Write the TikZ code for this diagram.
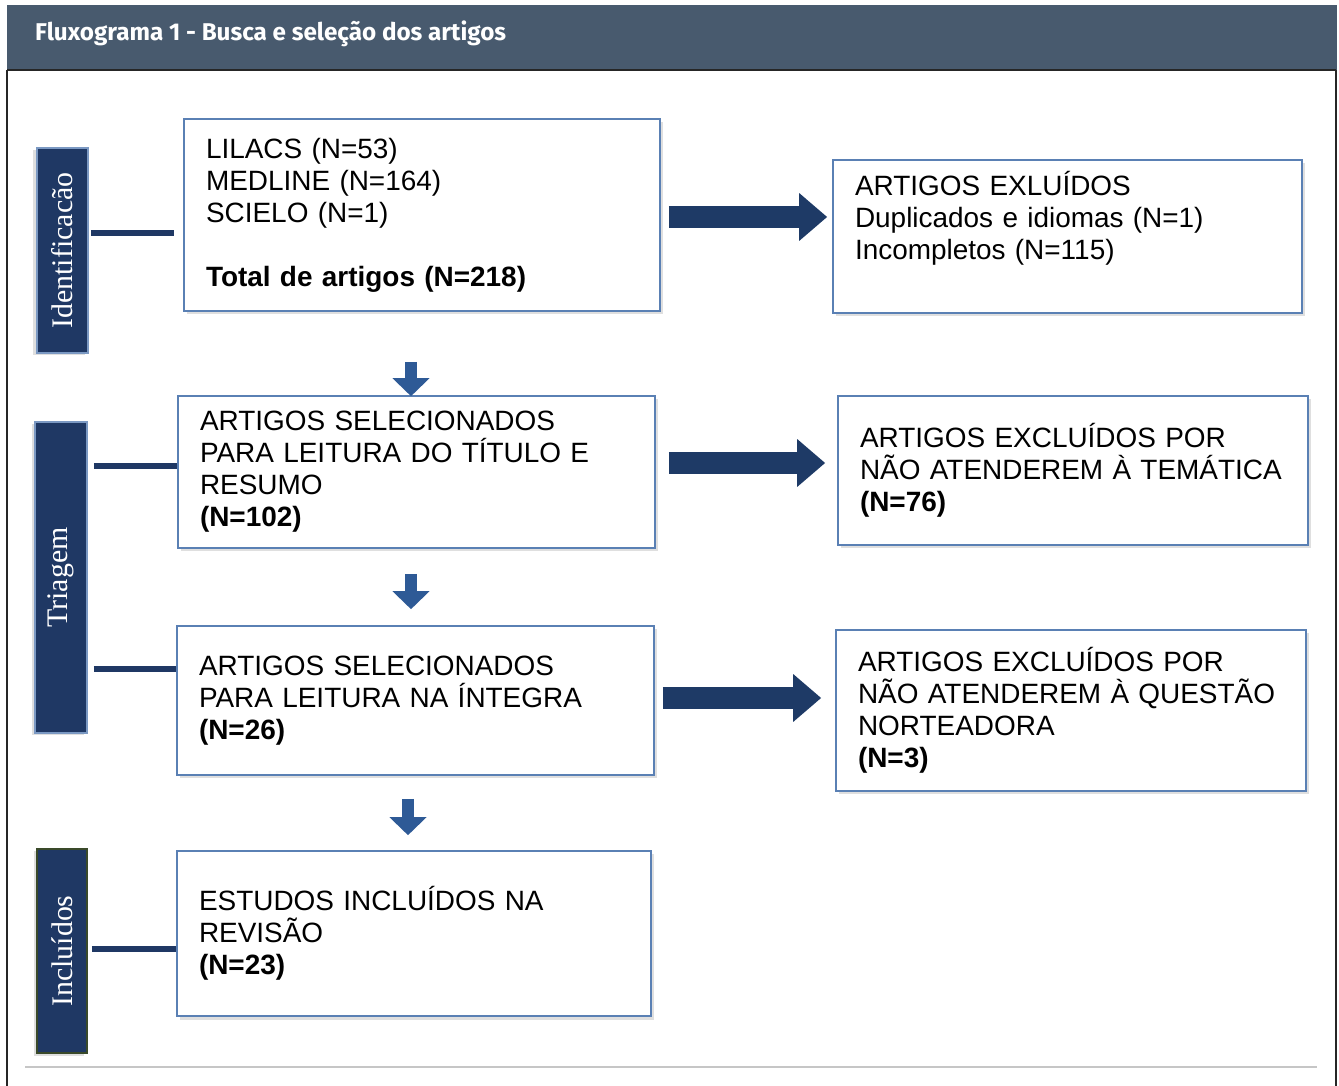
\documentclass[tikz,border=0pt]{standalone}
\usepackage{fontspec}
\setmainfont{Liberation Sans}[WordSpace=0.8]
\newfontfamily\serifa{Liberation Serif}
\newfontfamily\titulofonte{Fira Sans}
\usetikzlibrary{arrows.meta, positioning, calc, shadows}

\definecolor{cabecalho}{HTML}{485A6E}
\definecolor{marinho}{HTML}{1F3864}
\definecolor{borda}{HTML}{5A80B4}
\definecolor{setaazul}{HTML}{2E5A96}
\definecolor{setaescura}{HTML}{1E3A66}
\definecolor{oliva}{HTML}{3A4A2A}

\tikzset{
  caixa/.style={draw=borda, line width=0.9pt, fill=white, align=left,
    inner xsep=0.44cm, inner ysep=0pt, font=\fontsize{15.9}{18.2}\selectfont,
    drop shadow={shadow xshift=0.05cm, shadow yshift=-0.07cm, opacity=0.25}},
  rotulo/.style={fill=marinho, draw=#1, line width=1pt, text=white, rotate=90,
    inner sep=0pt, font=\serifa\fontsize{17}{20}\selectfont,
    drop shadow={shadow xshift=-0.07cm, shadow yshift=-0.05cm, opacity=0.25}},
  liga/.style={draw=marinho, line width=3.4pt},
  setagrossa/.style={draw=setaescura, line width=0.44cm,
    -{Triangle[width=0.92cm, length=0.56cm]}},
  setabaixo/.style={draw=setaazul, line width=0.24cm,
    -{Triangle[width=0.72cm, length=0.36cm]}},
}

\begin{document}
\begin{tikzpicture}
  \useasboundingbox (0,0) rectangle (26.78,-21.72);

  % Frame and header
  \fill[cabecalho] (0.14,-0.1) rectangle (26.74,-1.4);
  \draw[black!85, line width=0.8pt] (0.14,-1.4) -- (26.72,-1.4);
  \draw[black!85, line width=0.8pt] (0.14,-1.4) -- (0.14,-21.72);
  \draw[black!85, line width=0.8pt] (26.72,-1.4) -- (26.72,-21.72);
  \draw[gray!45, line width=1pt] (0.5,-21.34) -- (26.34,-21.34);
  \node[anchor=west, text=white, font=\titulofonte\bfseries\fontsize{13.8}{16}\selectfont]
    (titulo) at (0.58,-0.68) {Fluxograma 1 - Busca e seleção dos artigos};

  % Stage labels
  \node[rotulo=borda!80, minimum width=4.1cm, minimum height=1.02cm] (ident) at (1.25,-5.01) {Identificacão};
  \node[rotulo=borda!80, minimum width=6.22cm, minimum height=1.04cm] (triagem) at (1.22,-11.55) {Triagem};
  \node[rotulo=oliva, minimum width=4.08cm, minimum height=1.0cm] (incluidos) at (1.24,-19.02) {Incluídos};

  % Main boxes
  \node[caixa, text width=8.64cm, minimum height=3.84cm] (caixa1) at (8.44,-4.30)
    {LILACS (N=53)\\ MEDLINE (N=164)\\ SCIELO (N=1)\\[18.2pt] \textbf{Total de artigos (N=218)}};
  \node[caixa, text width=8.66cm, minimum height=3.04cm] (caixa2) at (8.33,-9.44)
    {ARTIGOS SELECIONADOS\\ PARA LEITURA DO TÍTULO E\\ RESUMO\\ \textbf{(N=102)}};
  \node[caixa, text width=8.66cm, minimum height=2.98cm] (caixa3) at (8.31,-14.01)
    {ARTIGOS SELECIONADOS\\ PARA LEITURA NA ÍNTEGRA\\ \textbf{(N=26)}};
  \node[caixa, text width=8.60cm, minimum height=3.3cm] (caixa4) at (8.28,-18.67)
    {ESTUDOS INCLUÍDOS NA\\ REVISÃO\\ \textbf{(N=23)}};

  % Exclusion boxes
  \node[caixa, text width=8.5cm, minimum height=3.06cm] (excl1) at (21.35,-4.73)
    {ARTIGOS EXLUÍDOS\\ Duplicados e idiomas (N=1)\\ Incompletos (N=115)\\ \strut};
  \node[caixa, text width=8.52cm, minimum height=2.98cm] (excl2) at (21.46,-9.41)
    {ARTIGOS EXCLUÍDOS POR\\ NÃO ATENDEREM À TEMÁTICA\\ \textbf{(N=76)}};
  \node[caixa, text width=8.52cm, minimum height=3.22cm] (excl3) at (21.42,-14.21)
    {ARTIGOS EXCLUÍDOS POR\\ NÃO ATENDEREM À QUESTÃO\\ NORTEADORA\\ \textbf{(N=3)}};

  % Label connectors
  \draw[liga, shorten <=0.04cm, shorten >=0.18cm] (ident.south |- 0,-4.66) -- (caixa1.west |- 0,-4.66);
  \draw[liga, shorten <=0.12cm] (triagem.south |- 0,-9.32) -- (caixa2.west |- 0,-9.32);
  \draw[liga, shorten <=0.12cm] (triagem.south |- 0,-13.38) -- (caixa3.west |- 0,-13.38);
  \draw[liga, shorten <=0.08cm] (incluidos.south |- 0,-18.98) -- (caixa4.west |- 0,-18.98);

  % Flow arrows
  \draw[setagrossa, shorten <=0.16cm, shorten >=0.1cm] (caixa1.east |- 0,-4.34) -- (excl1.west |- 0,-4.34);
  \draw[setagrossa, shorten <=0.26cm, shorten >=0.24cm] (caixa2.east |- 0,-9.26) -- (excl2.west |- 0,-9.26);
  \draw[setagrossa, shorten <=0.16cm, shorten >=0.28cm] (caixa3.east |- 0,-13.96) -- (excl3.west |- 0,-13.96);
  \draw[setabaixo, shorten <=1.0cm, shorten >=-0.02cm] (caixa1.south -| 8.22,0) -- (caixa2.north -| 8.22,0);
  \draw[setabaixo, shorten <=0.5cm, shorten >=0.32cm] (caixa2.south -| 8.22,0) -- (caixa3.north -| 8.22,0);
  \draw[setabaixo, shorten <=0.46cm, shorten >=0.3cm] (caixa3.south -| 8.16,0) -- (caixa4.north -| 8.16,0);
\end{tikzpicture}
\end{document}
